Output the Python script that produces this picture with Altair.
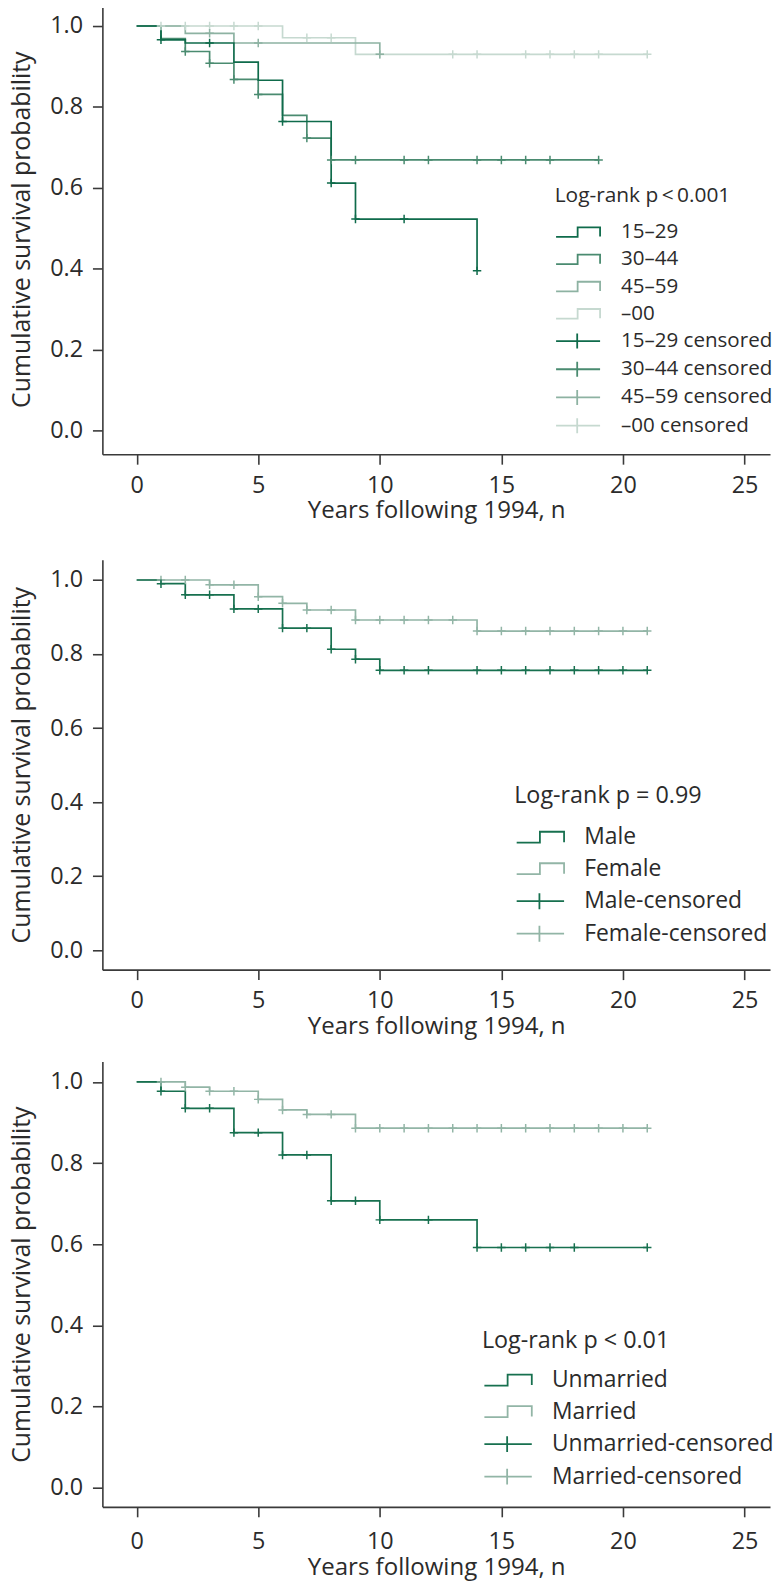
import altair as alt
import pandas as pd

FONT = "Open Sans"
TEXT_COLOR = "#2b2b2b"
AXIS_COLOR = "#3a3a3a"

YEAR_TICKS = [0, 5, 10, 15, 20, 25]
SURV_TICKS = [0.0, 0.2, 0.4, 0.6, 0.8, 1.0]
X_TITLE = "Years following 1994, n"
Y_TITLE = "Cumulative survival probability"
X_DOMAIN = [-1.41, 26.05]
PLOT_W = 672

# ---------------- Panel 1: age group ----------------
age_labels = ["15–29", "30–44", "45–59", "–00"]
age_colors = ["#0f6b4b", "#4a8b70", "#8db2a2", "#c6d9d0"]
age_1529_time = [0, 1, 2, 4, 5, 6, 8, 9, 14]
age_1529_surv = [1.0, 0.966, 0.958, 0.911, 0.866, 0.764, 0.612, 0.523, 0.395]
age_1529_cens = [1, 3, 6, 8, 9, 11, 14]
age_3044_time = [0, 1, 2, 3, 4, 5, 6, 7, 8, 19]
age_3044_surv = [1.0, 0.969, 0.937, 0.908, 0.868, 0.831, 0.779, 0.723, 0.669, 0.669]
age_3044_cens = [2, 3, 4, 5, 7, 8, 9, 11, 12, 14, 15, 16, 17, 19]
age_4559_time = [0, 2, 4, 10]
age_4559_surv = [1.0, 0.982, 0.958, 0.930]
age_4559_cens = [3, 5, 10]
age_60_time = [0, 6, 9, 21]
age_60_surv = [1.0, 0.971, 0.930, 0.930]
age_60_cens = [1, 2, 3, 4, 5, 7, 8, 10, 13, 14, 16, 17, 18, 19, 21]

# ---------------- Panel 2: sex ----------------
sex_labels = ["Male", "Female"]
sex_colors = ["#17704f", "#92b5a6"]
male_time = [0, 1, 2, 4, 6, 8, 9, 10, 21]
male_surv = [1.0, 0.990, 0.960, 0.922, 0.870, 0.813, 0.786, 0.756, 0.756]
male_cens = [1, 2, 3, 4, 5, 6, 7, 8, 9, 10, 11, 12, 14, 15, 16, 17, 18, 19, 20, 21]
female_time = [0, 3, 5, 6, 7, 9, 14, 21]
female_surv = [1.0, 0.987, 0.955, 0.937, 0.919, 0.892, 0.862, 0.862]
female_cens = [1, 2, 3, 4, 5, 6, 7, 8, 9, 10, 11, 12, 13, 14, 15, 16, 17, 18, 19, 20, 21]

# ---------------- Panel 3: marital status ----------------
mar_labels = ["Unmarried", "Married"]
mar_colors = ["#17704f", "#92b5a6"]
unmarried_time = [0, 1, 2, 4, 6, 8, 10, 14, 21]
unmarried_surv = [1.0, 0.977, 0.935, 0.875, 0.820, 0.707, 0.660, 0.592, 0.592]
unmarried_cens = [1, 2, 3, 4, 5, 6, 7, 8, 9, 10, 12, 14, 15, 16, 17, 18, 21]
married_time = [0, 2, 3, 5, 6, 7, 9, 21]
married_surv = [1.0, 0.987, 0.977, 0.957, 0.931, 0.920, 0.886, 0.886]
married_cens = [1, 2, 3, 4, 5, 6, 7, 8, 9, 10, 11, 12, 13, 14, 15, 16, 17, 18, 19, 20, 21]

CENSOR_MARK = "M-1,0 H1 M0,-1 V1"
SYM_R = 8.0      # half of sqrt(symbolSize)
SYM_C = 9.0      # symbol centre offset in legend entry


def level_at(times, survs, t):
    val = survs[0]
    for ti, si in zip(times, survs):
        if ti <= t:
            val = si
    return val


def legend_paths(width, step_h, tick_h):
    left = -SYM_C / SYM_R
    right = (width - SYM_C) / SYM_R
    mid = left + 0.49 * (right - left)
    tick = left + 0.48 * (right - left)
    h = step_h / SYM_R
    t = tick_h / SYM_R
    step = f"M{left:.3f},{h:.3f} H{mid:.3f} V{-h:.3f} H{right:.3f} V{h * 0.9:.3f}"
    cross = f"M{left:.3f},0 H{right:.3f} M{tick:.3f},{-t:.3f} V{t:.3f}"
    return step, cross


def make_panel(groups, colors, suffix, height, y_domain, leg, x_lp=9.5, x_tp=2):
    labels = [g[0] for g in groups]
    legend_labels = labels + [l + suffix for l in labels]
    step, cross = legend_paths(leg["sym_w"], leg["step_h"], leg["tick_h"])
    color_scale = alt.Scale(domain=legend_labels, range=colors + colors)
    shape_scale = alt.Scale(domain=legend_labels, range=[step] * len(labels) + [cross] * len(labels))

    x_axis = alt.Axis(values=YEAR_TICKS, title=X_TITLE, tickSize=10, labelPadding=x_lp,
                      titlePadding=x_tp, grid=False, format="d", titleFontSize=24.2)
    y_axis = alt.Axis(values=SURV_TICKS, format=".1f", title=Y_TITLE, tickSize=10,
                      labelPadding=10, titlePadding=14.9, grid=False, titleFontSize=25)
    x = alt.X("year:Q", scale=alt.Scale(domain=X_DOMAIN, nice=False, zero=False), axis=x_axis)
    y = alt.Y("surv:Q", scale=alt.Scale(domain=y_domain, nice=False, zero=False), axis=y_axis)

    layers = []
    # curves: lighter series drawn last (on top)
    for (label, times, survs, cens), col in reversed(list(zip(groups, colors))):
        df = pd.DataFrame({"year": times, "surv": survs})
        layers.append(
            alt.Chart(df).mark_line(interpolate="step-after", strokeWidth=1.7, color=col)
            .encode(x=x, y=y)
        )
    # censoring marks
    for (label, times, survs, cens), col in reversed(list(zip(groups, colors))):
        cdf = pd.DataFrame({"year": cens, "surv": [level_at(times, survs, t) for t in cens]})
        layers.append(
            alt.Chart(cdf).mark_point(shape=CENSOR_MARK, size=72, filled=False,
                                      strokeWidth=1.5, opacity=1, color=col)
            .encode(x=x, y=y)
        )

    legend = alt.Legend(
        title=leg["title"], orient="none", legendX=leg["x"], legendY=leg["y"],
        padding=0, titleFont=FONT, titleFontSize=leg["title_fs"], titleFontWeight="normal",
        titleColor=TEXT_COLOR, titlePadding=leg["title_pad"], titleLimit=600,
        labelFont=FONT, labelFontSize=leg["label_fs"], labelFontWeight="normal",
        labelColor=TEXT_COLOR, labelLimit=600, labelOffset=leg["label_off"],
        rowPadding=leg["row_pad"], symbolSize=(2 * SYM_R) ** 2, symbolStrokeWidth=1.8,
    )
    leg_layer = alt.Chart(pd.DataFrame({"label": legend_labels})).transform_filter(
        "false"
    ).mark_point(filled=False, opacity=1, strokeWidth=1.8).encode(
        color=alt.Color("label:N", scale=color_scale, legend=legend),
        shape=alt.Shape("label:N", scale=shape_scale, legend=legend),
    )
    layers.append(leg_layer)
    return alt.layer(*layers).properties(width=PLOT_W, height=height)


p1 = make_panel(
    [(age_labels[0], age_1529_time, age_1529_surv, age_1529_cens),
     (age_labels[1], age_3044_time, age_3044_surv, age_3044_cens),
     (age_labels[2], age_4559_time, age_4559_surv, age_4559_cens),
     (age_labels[3], age_60_time, age_60_surv, age_60_cens)],
    age_colors, " censored", 453, [-0.0582, 1.0540],
    dict(title="Log-rank p\u2009<\u20090.001", x=455.3, y=181.7, title_fs=21, label_fs=20.7,
         title_pad=16.4, row_pad=5.4, label_off=46, sym_w=44.3, step_h=4.85, tick_h=7.5),
)
p2 = make_panel(
    [(sex_labels[0], male_time, male_surv, male_cens),
     (sex_labels[1], female_time, female_surv, female_cens)],
    sex_colors, "-censored", 412.5, [-0.0529, 1.0545],
    dict(title="Log-rank p = 0.99", x=414.5, y=226.2, title_fs=23.5, label_fs=23,
         title_pad=18, row_pad=7.7, label_off=47.5, sym_w=47.7, step_h=5.5, tick_h=8),
)
p3 = make_panel(
    [(mar_labels[0], unmarried_time, unmarried_surv, unmarried_cens),
     (mar_labels[1], married_time, married_surv, married_cens)],
    mar_colors, "-censored", 448.3, [-0.0473, 1.0504],
    dict(title="Log-rank p < 0.01", x=382, y=269.5, title_fs=23.5, label_fs=23,
         title_pad=16.3, row_pad=7.7, label_off=47.5, sym_w=47.7, step_h=5.5, tick_h=8),
    x_lp=13, x_tp=3,
)

top = alt.vconcat(p1, p2, spacing=36.3).resolve_scale(
    color="independent", shape="independent", x="independent", y="independent"
).resolve_legend(color="independent", shape="independent")

chart = alt.vconcat(top, p3, spacing=23.2).resolve_scale(
    color="independent", shape="independent", x="independent", y="independent"
).resolve_legend(color="independent", shape="independent").properties(
    padding={"left": 2, "top": -9, "right": 0, "bottom": 0}
).configure(font=FONT).configure_view(stroke=None).configure_axis(
    domainColor=AXIS_COLOR, domainWidth=1.6, tickColor=AXIS_COLOR, tickWidth=1.6,
    labelFont=FONT, labelFontSize=23.5, labelColor=TEXT_COLOR, labelFontWeight="normal",
    titleFont=FONT, titleColor=TEXT_COLOR, titleFontWeight="normal",
)

chart.save("out.html", embed_options={"renderer": "svg", "actions": False})
